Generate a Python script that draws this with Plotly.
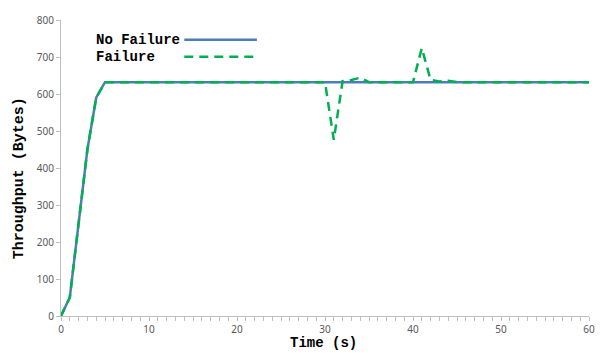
import plotly.graph_objects as go

time_s = list(range(0, 61))
no_failure = [0, 50, 250, 450, 590] + [632] * 56
failure = list(no_failure)
failure_overrides = {31: 476, 32: 635, 33: 638, 34: 644, 35: 632,
                     41: 724, 42: 638, 43: 634, 44: 636, 45: 632}
for k, v in failure_overrides.items():
    failure[k] = v

BLUE = "#4A7EBB"
GREEN = "#00B050"
MONO = "Liberation Mono, Courier New, monospace"

fig = go.Figure()
fig.add_trace(go.Scatter(x=time_s, y=no_failure, mode="lines", name="No Failure",
                         line=dict(color=BLUE, width=2.5)))
fig.add_trace(go.Scatter(x=time_s, y=failure, mode="lines", name="Failure",
                         line=dict(color=GREEN, width=2.5, dash="9px,6px")))

axis_col = "#BFBFBF"
T, B = 18, 37
plot_h = 353 - T - B
fig.update_layout(
    width=607, height=353,
    margin=dict(l=61, r=15, t=T, b=B),
    plot_bgcolor="white", paper_bgcolor="white",
    showlegend=False,
    xaxis=dict(range=[0, 60], tickvals=[0, 10, 20, 30, 40, 50, 60],
               showgrid=False, zeroline=False, showline=True, linecolor=axis_col, linewidth=1,
               ticks="outside", ticklen=4, tickcolor=axis_col,
               minor=dict(dtick=1, ticks="outside", ticklen=4, tickcolor=axis_col),
               tickfont=dict(family="Noto Sans, sans-serif", size=10, color="#595959")),
    yaxis=dict(range=[0, 800], dtick=100,
               showgrid=False, zeroline=False, showline=True, linecolor=axis_col, linewidth=1,
               ticks="outside", ticklen=4, tickcolor=axis_col,
               tickfont=dict(family="Noto Sans, sans-serif", size=10, color="#595959")),
)

def py(pix):
    return (353 - B - pix) / plot_h

fig.add_annotation(text="<b>Throughput (Bytes)</b>", xref="paper", yref="paper",
                   x=-0.0772, y=py(177), xanchor="center", yanchor="middle", textangle=-90,
                   showarrow=False, font=dict(family=MONO, size=15, color="black"))
fig.add_annotation(text="<b>Time (s)</b>", xref="paper", yref="paper",
                   x=0.4975, y=py(352.5), xanchor="center", yanchor="bottom", borderpad=0,
                   showarrow=False, font=dict(family=MONO, size=14, color="black"))

# legend (text then sample line)
legend_items = [("No Failure", BLUE, "solid", 38), ("Failure", GREEN, "9px,6px", 55)]
for label, col, dash, ypix in legend_items:
    yy = py(ypix)
    fig.add_annotation(text="<b>%s</b>" % label, xref="paper", yref="paper",
                       x=0.062, y=yy, xanchor="left", yanchor="middle",
                       showarrow=False, font=dict(family=MONO, size=14, color="black"))
    fig.add_shape(type="line", xref="paper", yref="paper", x0=0.2335, x1=0.371, y0=yy, y1=yy,
                  line=dict(color=col, width=2.5, dash=dash))

fig.write_html("out.html")
